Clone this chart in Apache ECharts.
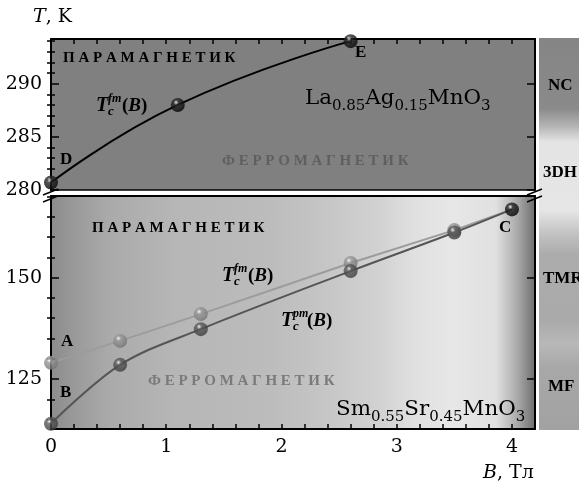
<!DOCTYPE html>
<html>
<head>
<meta charset="utf-8">
<script src="https://cdn.jsdelivr.net/npm/echarts@6/dist/echarts.min.js"></script>
<style>
  html, body { margin: 0; padding: 0; background: #fff; }
  #chart { width: 579px; height: 484px; }
</style>
</head>
<body>
<div id="chart"></div>
<script>
// La0.85Ag0.15MnO3: ferromagnetic Curie temperature versus field (points D, E)
const laField = [0, 1.1, 2.6];
const laTcFm = [280.7, 288.0, 294.0];

// Sm0.55Sr0.45MnO3: two Curie temperature branches (A and B merge at C)
const smField = [0, 0.6, 1.3, 2.6, 3.5, 4.0];
const smTcFm = [129.0, 134.4, 141.0, 153.6, 161.7, 166.8];
const smTcPm = [114.0, 128.5, 137.3, 151.6, 161.1, 166.8];

// Tick labels
const fieldTickLabels = [0, 1, 2, 3, 4];
const laTempTickLabels = [280, 285, 290];
const smTempTickLabels = [125, 150];

const SERIF = '"DejaVu Serif", "Liberation Serif", serif';
const BSERIF = '"Liberation Serif", "DejaVu Serif", serif';

function steps(from, to, step, skip) {
  const out = [];
  for (let v = from; v <= to + 1e-9; v += step) {
    const r = Math.round(v * 1000) / 1000;
    if (!skip || skip.indexOf(r) < 0) out.push(r);
  }
  return out;
}

const fieldMinor = steps(0, 4, 0.2);
const laMinor = steps(281, 294, 1, laTempTickLabels);
const smMinor = steps(115, 170, 5, smTempTickLabels);

function pairs(xs, ys) { return xs.map((x, i) => [x, ys[i]]); }

function sphere(base, dark) {
  return {
    type: 'radial', x: 0.38, y: 0.32, r: 0.72,
    colorStops: [
      { offset: 0, color: '#ffffff' },
      { offset: 0.25, color: base },
      { offset: 1, color: dark }
    ]
  };
}

const blackLine = { color: '#000', width: 2 };

function xAxisDef(grid, pos, opts) {
  return Object.assign({
    type: 'value', gridIndex: grid, position: pos, min: 0, max: 4.2,
    splitLine: { show: false },
    axisLine: { show: true, onZero: false, lineStyle: blackLine },
    axisTick: { show: false },
    axisLabel: { show: false }
  }, opts || {});
}

function yAxisDef(grid, pos, min, max, opts) {
  return Object.assign({
    type: 'value', gridIndex: grid, position: pos, min: min, max: max,
    splitLine: { show: false },
    axisLine: { show: true, onZero: false, lineStyle: blackLine },
    axisTick: { show: false },
    axisLabel: { show: false }
  }, opts || {});
}

function ticks(values, len) {
  return { show: true, inside: true, length: len, customValues: values,
           lineStyle: { color: '#000', width: 1.5 } };
}

const tickFont = { show: true, color: '#000', fontFamily: SERIF, fontSize: 19 };

const xAxes = [
  xAxisDef(0, 'top', { axisTick: ticks(fieldMinor, 5) }),
  xAxisDef(0, 'bottom', { axisLine: { show: true, onZero: false, lineStyle: { color: '#000', width: 1.5 } } }),
  xAxisDef(1, 'bottom', {
    axisTick: ticks(fieldMinor, 5),
    axisLabel: Object.assign({ customValues: fieldTickLabels, margin: 9 }, tickFont)
  }),
  xAxisDef(1, 'top')
];

const LA_MIN = 280, LA_MAX = 294.2;
const SM_MIN = 112.7, SM_MAX = 170.1;

const yAxes = [
  yAxisDef(0, 'left', LA_MIN, LA_MAX, {
    axisTick: ticks(laTempTickLabels, 8),
    axisLabel: Object.assign({ customValues: laTempTickLabels, margin: 9 }, tickFont)
  }),
  yAxisDef(0, 'left', LA_MIN, LA_MAX, { axisLine: { show: false }, axisTick: ticks(laMinor, 4) }),
  yAxisDef(0, 'right', LA_MIN, LA_MAX, { axisTick: ticks(laTempTickLabels, 8) }),
  yAxisDef(0, 'right', LA_MIN, LA_MAX, { axisLine: { show: false }, axisTick: ticks(laMinor, 4) }),
  yAxisDef(1, 'left', SM_MIN, SM_MAX, {
    axisTick: ticks(smTempTickLabels, 8),
    axisLabel: Object.assign({ customValues: smTempTickLabels, margin: 9 }, tickFont)
  }),
  yAxisDef(1, 'left', SM_MIN, SM_MAX, { axisLine: { show: false }, axisTick: ticks(smMinor, 4) }),
  yAxisDef(1, 'right', SM_MIN, SM_MAX, { axisTick: ticks(smTempTickLabels, 8) }),
  yAxisDef(1, 'right', SM_MIN, SM_MAX, { axisLine: { show: false }, axisTick: ticks(smMinor, 4) })
];

const fmColor = '#9c9c9c';
const pmColor = '#555555';

const series = [
  {
    type: 'line', xAxisIndex: 0, yAxisIndex: 0, smooth: true, showSymbol: false,
    data: pairs(laField, laTcFm), lineStyle: { color: '#000', width: 2 }, z: 3
  },
  {
    type: 'scatter', xAxisIndex: 0, yAxisIndex: 0, clip: false, symbolSize: 14,
    data: pairs(laField, laTcFm), itemStyle: { color: sphere('#2a2a2a', '#000') }, z: 4
  },
  {
    type: 'line', xAxisIndex: 2, yAxisIndex: 4, smooth: false, showSymbol: false,
    data: pairs(smField, smTcFm), lineStyle: { color: fmColor, width: 2 }, z: 3
  },
  {
    type: 'line', xAxisIndex: 2, yAxisIndex: 4, smooth: 0.35, showSymbol: false,
    data: pairs(smField, smTcPm), lineStyle: { color: pmColor, width: 2 }, z: 3
  },
  {
    type: 'scatter', xAxisIndex: 2, yAxisIndex: 4, clip: false, symbolSize: 14,
    data: pairs(smField.slice(0, -1), smTcFm.slice(0, -1)),
    itemStyle: { color: sphere('#9a9a9a', '#707070') }, z: 4
  },
  {
    type: 'scatter', xAxisIndex: 2, yAxisIndex: 4, clip: false, symbolSize: 14,
    data: pairs(smField.slice(0, -1), smTcPm.slice(0, -1)),
    itemStyle: { color: sphere('#5c5c5c', '#383838') }, z: 4
  },
  {
    type: 'scatter', xAxisIndex: 2, yAxisIndex: 4, clip: false, symbolSize: 14,
    data: [[smField[smField.length - 1], smTcPm[smTcPm.length - 1]]],
    itemStyle: { color: sphere('#222', '#000') }, z: 5
  }
];

// Text helpers
function txt(x, y, text, font, fill, extra) {
  return Object.assign({
    type: 'text', x: x, y: y, z: 20,
    style: { text: text, font: font, fill: fill || '#000', textVerticalAlign: 'middle' }
  }, extra || {});
}

function tcLabel(x, y, sup) {
  return [
    txt(x, y, 'T', 'italic bold 20px ' + BSERIF),
    txt(x + 12, y - 7, sup, 'italic bold 12px ' + BSERIF),
    txt(x + 12, y + 6, 'c', 'italic bold 13px ' + BSERIF),
    {
      type: 'text', x: x + 26, y: y, z: 20,
      style: {
        text: '{p|(}{b|B}{p|)}', textVerticalAlign: 'middle',
        rich: {
          p: { font: 'bold 19px ' + BSERIF, fill: '#000' },
          b: { font: 'italic bold 19px ' + BSERIF, fill: '#000' }
        }
      }
    }
  ];
}

function formula(x, y, parts) {
  let s = '';
  parts.forEach((p, i) => { s += '{' + (i % 2 ? 's' : 'n') + '|' + p + '}'; });
  return {
    type: 'text', x: x, y: y, z: 20, scaleX: 1.07, originX: 0, originY: 0,
    style: {
      text: s, textVerticalAlign: 'middle',
      rich: {
        n: { fontFamily: SERIF, fontSize: 20, lineHeight: 28, fill: '#000' },
        s: { fontFamily: SERIF, fontSize: 14, lineHeight: 14, verticalAlign: 'bottom', fill: '#000' }
      }
    }
  };
}

const sideBar = {
  type: 'rect', z: 1,
  shape: { x: 539, y: 38, width: 45, height: 392 },
  style: {
    fill: {
      type: 'linear', x: 0, y: 0, x2: 0, y2: 1,
      colorStops: [
        { offset: 0, color: '#858585' },
        { offset: 0.18, color: '#8a8a8a' },
        { offset: 0.225, color: '#b4b4b4' },
        { offset: 0.265, color: '#e4e4e4' },
        { offset: 0.44, color: '#e6e6e6' },
        { offset: 0.5, color: '#c2c2c2' },
        { offset: 0.55, color: '#acacac' },
        { offset: 0.72, color: '#aaaaaa' },
        { offset: 0.78, color: '#b8b8b8' },
        { offset: 0.84, color: '#a8a8a8' },
        { offset: 1, color: '#a2a2a2' }
      ]
    }
  }
};

function breakMarks(x) {
  return [
    { type: 'line', z: 30, shape: { x1: x - 8, y1: 195, x2: x + 7, y2: 189 }, style: { stroke: '#000', lineWidth: 1.5 } },
    { type: 'line', z: 30, shape: { x1: x - 8, y1: 202, x2: x + 7, y2: 196 }, style: { stroke: '#000', lineWidth: 1.5 } }
  ];
}

const BOLD15 = 'bold 15px ' + BSERIF;
const BOLD17 = 'bold 17px ' + BSERIF;

const graphics = [
  sideBar,
  txt(548, 86, 'NC', BOLD17),
  txt(543, 173, '3DH', BOLD17),
  txt(543, 279, 'TMR', BOLD17),
  txt(548, 387, 'MF', BOLD17),

  txt(63, 58, 'П А Р А М А Г Н Е Т И К', BOLD15),
  txt(222, 161, 'Ф Е Р Р О М А Г Н Е Т И К', BOLD15, '#5f5f5f'),
  txt(92, 228, 'П А Р А М А Г Н Е Т И К', BOLD15),
  txt(148, 381, 'Ф Е Р Р О М А Г Н Е Т И К', BOLD15, '#7a7a7a'),

  ...tcLabel(96, 106, 'fm'),
  ...tcLabel(222, 276, 'fm'),
  ...tcLabel(281, 321, 'pm'),

  formula(305, 99, ['La', '0.85', 'Ag', '0.15', 'MnO', '3']),
  formula(336, 410, ['Sm', '0.55', 'Sr', '0.45', 'MnO', '3']),

  txt(60, 160, 'D', BOLD17),
  txt(355, 53, 'E', BOLD17),
  txt(61, 342, 'A', BOLD17),
  txt(60, 393, 'B', BOLD17),
  txt(499, 228, 'C', BOLD17),

  {
    type: 'text', x: 33, y: 17, z: 20,
    style: {
      text: '{i|T}{n|, K}', textVerticalAlign: 'middle',
      rich: {
        i: { fontFamily: SERIF, fontStyle: 'italic', fontSize: 19, fill: '#000' },
        n: { fontFamily: SERIF, fontSize: 19, fill: '#000' }
      }
    }
  },
  {
    type: 'text', x: 483, y: 473, z: 20,
    style: {
      text: '{i|B}{n|, Тл}', textVerticalAlign: 'middle',
      rich: {
        i: { fontFamily: SERIF, fontStyle: 'italic', fontSize: 19, fill: '#000' },
        n: { fontFamily: SERIF, fontSize: 19, fill: '#000' }
      }
    }
  },
  ...breakMarks(51),
  ...breakMarks(535)
];

const chart = echarts.init(document.getElementById('chart'), null, { renderer: 'canvas' });
chart.setOption({
  animation: false,
  backgroundColor: '#ffffff',
  grid: [
    {
      left: 51, right: 44, top: 39, height: 151, show: true, borderWidth: 0,
      outerBoundsMode: 'none', backgroundColor: '#808080'
    },
    {
      left: 51, right: 44, top: 196, bottom: 55, show: true, borderWidth: 0,
      outerBoundsMode: 'none',
      backgroundColor: {
        type: 'linear', x: 0, y: 0, x2: 1, y2: 0,
        colorStops: [
          { offset: 0, color: '#8c8c8c' },
          { offset: 0.05, color: '#9a9a9a' },
          { offset: 0.12, color: '#aaaaaa' },
          { offset: 0.25, color: '#b6b6b6' },
          { offset: 0.45, color: '#bcbcbc' },
          { offset: 0.55, color: '#c4c4c4' },
          { offset: 0.68, color: '#d2d2d2' },
          { offset: 0.75, color: '#e0e0e0' },
          { offset: 0.83, color: '#e7e7e7' },
          { offset: 0.92, color: '#e0e0e0' },
          { offset: 0.965, color: '#a8a8a8' },
          { offset: 1, color: '#6e6e6e' }
        ]
      }
    }
  ],
  xAxis: xAxes,
  yAxis: yAxes,
  series: series,
  graphic: graphics
});
</script>
</body>
</html>
